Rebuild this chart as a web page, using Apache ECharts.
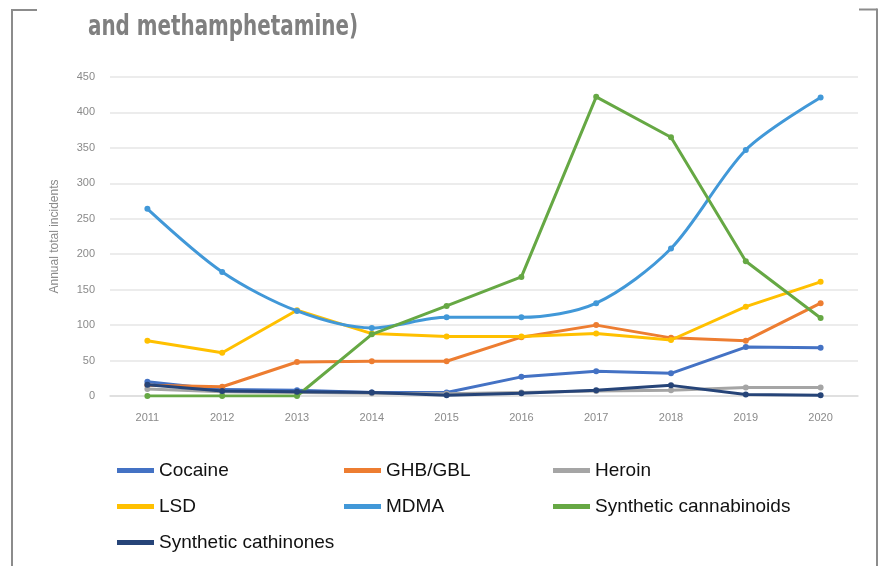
<!DOCTYPE html>
<html>
<head>
<meta charset="utf-8">
<script src="https://cdn.jsdelivr.net/npm/echarts@6/dist/echarts.min.js"></script>
<style>
html,body{margin:0;padding:0;background:#fff;}
#c{width:882px;height:566px;}
</style>
</head>
<body>
<div id="c"></div>
<script>
var years = ['2011','2012','2013','2014','2015','2016','2017','2018','2019','2020'];
var cocaine = [20, 9, 8, 5, 5, 27, 35, 32, 69, 68];
var ghb = [15, 13, 48, 49, 49, 83, 100, 82, 78, 131];
var heroin = [10, 6, 5, 4, 3, 5, 7, 8, 12, 12];
var lsd = [78, 61, 121, 88, 84, 84, 88, 79, 126, 161];
var mdma = [264, 175, 120, 96, 111, 111, 131, 208, 347, 421];
var cannabinoids = [0, 0, 0, 87, 127, 168, 422, 365, 190, 110];
var cathinones = [16, 7, 6, 5, 1, 4, 8, 15, 2, 1];
var yTicks = ['0','50','100','150','200','250','300','350','400','450'];
var titleText = 'and methamphetamine)';

var names = ['Cocaine','GHB/GBL','Heroin','LSD','MDMA','Synthetic cannabinoids','Synthetic cathinones'];
var values = [cocaine, ghb, heroin, lsd, mdma, cannabinoids, cathinones];
var colors = ['#4472C4','#ED7D31','#A5A5A5','#FFC000','#4198D8','#66A844','#264478'];

var chart = echarts.init(document.getElementById('c'), null, {renderer:'canvas'});
var series = names.map(function(n, i){
  return {
    name: n, type: 'line', data: values[i],
    smooth: n === 'MDMA' ? 0.3 : false,
    symbol: 'circle', symbolSize: 6,
    lineStyle: {width: 3, color: colors[i]},
    itemStyle: {color: colors[i]},
    z: 2 + i
  };
});
var legendText = {color:'#111', fontSize:19, fontFamily:"'Liberation Sans', Arial, sans-serif"};
function legend(left, data){
  return {left: left, top: 461, orient:'vertical', itemGap: 17, itemWidth: 37, itemHeight: 5,
    padding: 0, icon: 'rect', data: data, textStyle: legendText, selectedMode: false};
}
chart.setOption({
  animation: false,
  backgroundColor: '#fff',
  grid: {left: 110, right: 24, top: 77, bottom: 170, containLabel: false},
  xAxis: {
    type: 'category', data: years, boundaryGap: true,
    axisLine: {show: true, lineStyle: {color: '#dcdcdc', width: 1.5}},
    axisTick: {show: false},
    axisLabel: {color: '#8a8a8a', fontSize: 11, margin: 16, fontFamily: "'Liberation Sans', Arial, sans-serif"}
  },
  yAxis: {
    type: 'value', min: 0, max: 450, interval: 50,
    name: 'Annual total incidents', nameLocation: 'middle', nameGap: 49,
    nameTextStyle: {color: '#8a8a8a', fontSize: 12, fontFamily: "'Liberation Sans', Arial, sans-serif"},
    axisLine: {show: false}, axisTick: {show: false},
    axisLabel: {color: '#8a8a8a', fontSize: 11, margin: 15, fontFamily: "'Liberation Sans', Arial, sans-serif",
      formatter: function(v){ return yTicks[v/50]; }},
    splitLine: {lineStyle: {color: '#e6e6e6', width: 1.5}}
  },
  legend: [
    legend(117, ['Cocaine','LSD','Synthetic cathinones']),
    legend(344, ['GHB/GBL','MDMA']),
    legend(553, ['Heroin','Synthetic cannabinoids'])
  ],
  graphic: [
    {type:'text', x: 88, y: 28, scaleX: 0.79,
      style:{text: titleText, fill:'#808080', verticalAlign:'middle',
        font: "bold 28px 'DejaVu Sans Condensed', 'DejaVu Sans', sans-serif"}},
    {type:'line', shape:{x1:12, y1:10, x2:12, y2:566}, style:{stroke:'#8c8c8c', lineWidth:2}},
    {type:'line', shape:{x1:11, y1:10, x2:37, y2:10}, style:{stroke:'#8c8c8c', lineWidth:2}},
    {type:'line', shape:{x1:859, y1:9.5, x2:877, y2:9.5}, style:{stroke:'#8c8c8c', lineWidth:2}},
    {type:'line', shape:{x1:877, y1:8.5, x2:877, y2:566}, style:{stroke:'#8c8c8c', lineWidth:2}}
  ],
  series: series
});
</script>
</body>
</html>
